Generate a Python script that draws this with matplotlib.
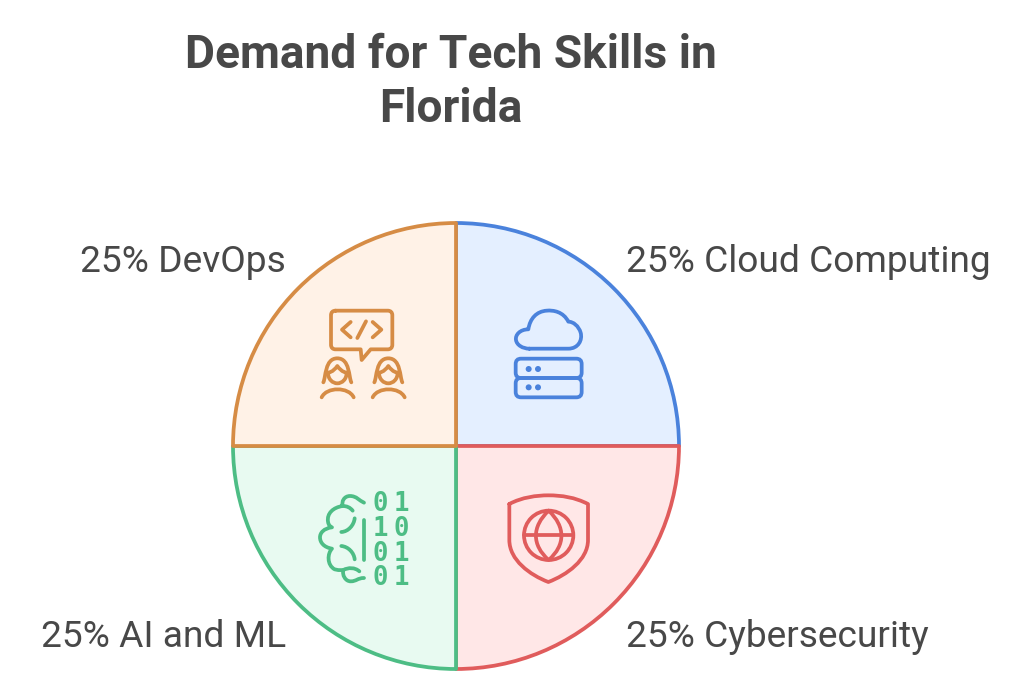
import numpy as np
import matplotlib
matplotlib.use("Agg")
import matplotlib.pyplot as plt
from matplotlib.path import Path
from matplotlib.patches import PathPatch, FancyBboxPatch, Circle

title = "Demand for Tech Skills in\nFlorida"
categories = ["Cloud Computing", "Cybersecurity", "AI and ML", "DevOps"]
shares = [25, 25, 25, 25]
edge_colors = ["#4A82DC", "#E05C5C", "#4DBD85", "#D68C45"]
fill_colors = ["#E4EFFF", "#FFE7E7", "#E8FAF1", "#FFF2E7"]
binary_columns = ["0\n1\n0\n0", "1\n0\n1\n1"]
text_color = "#484848"

W, H = 1024, 694
fig = plt.figure(figsize=(W / 100, H / 100), dpi=100, facecolor="white")
ax = fig.add_axes([0, 0, 1, 1])

wedges, _ = ax.pie(shares, colors=fill_colors, startangle=90, counterclock=False,
                   center=(456, H - 446), radius=223, frame=True,
                   wedgeprops=dict(linewidth=2.7, joinstyle="round"))
for w, c in zip(wedges, edge_colors):
    w.set_edgecolor(c)
ax.set_xlim(0, W)
ax.set_ylim(0, H)
ax.set_aspect("equal")
ax.axis("off")

ax.text(451, H - 82, title, ha="center", va="center", fontsize=33.2, family="Roboto",
        fontweight="bold", color=text_color, linespacing=1.3)

label_pos = [(626, 262, "left"), (626, 637, "left"), (286, 637, "right"), (286, 262, "right")]
for name, s, (x, y, ha) in zip(categories, shares, label_pos):
    ax.text(x, H - y, f"{s}% {name}", ha=ha, va="center", fontsize=26.75, family="Roboto",
            color=text_color)

LW = 2.7


def curve(color, ox, oy, start, *segs, lw=LW, close=False):
    """Icon stroke in 3x zoomed coordinates. segs: 2 pts = line, 6 numbers = bezier."""
    def P(x, y):
        return (ox + x / 3, H - (oy + y / 3))
    v, c = [P(*start)], [Path.MOVETO]
    for s in segs:
        if len(s) == 2:
            v.append(P(*s)); c.append(Path.LINETO)
        else:
            v += [P(s[0], s[1]), P(s[2], s[3]), P(s[4], s[5])]
            c += [Path.CURVE4] * 3
    if close:
        v.append(v[0]); c.append(Path.CLOSEPOLY)
    ax.add_patch(PathPatch(Path(v, c), fill=False, edgecolor=color, lw=lw,
                           capstyle="round", joinstyle="round", zorder=5))


def rrect(color, ox, oy, x0, y0, x1, y1, r, lw=LW):
    ax.add_patch(FancyBboxPatch((ox + (x0 + r) / 3, H - (oy + (y1 - r) / 3)),
                                (x1 - x0 - 2 * r) / 3, (y1 - y0 - 2 * r) / 3,
                                boxstyle=f"round,pad={r / 3},rounding_size={r / 3}",
                                fill=False, edgecolor=color, lw=lw, zorder=5))


def circle(color, ox, oy, x, y, r, fill=False, lw=LW):
    ax.add_patch(Circle((ox + x / 3, H - (oy + y / 3)), r / 3, fill=fill,
                        facecolor=color if fill else "none", edgecolor=color,
                        lw=0 if fill else lw, zorder=5))


# ---- cloud + server icon
c = edge_colors[0]
ox, oy = 300, 290
curve(c, ox, oy, (688, 176), (805, 176), (835, 176, 848, 150, 842, 128),
      (836, 108, 820, 95, 805, 95), (790, 65, 760, 60, 740, 62),
      (710, 64, 690, 85, 685, 118), (660, 118, 645, 135, 648, 150),
      (650, 165, 668, 176, 688, 176))
rrect(c, ox, oy, 647, 206, 845, 264, 16)
rrect(c, ox, oy, 647, 264, 845, 322, 16)
for y in (237, 292):
    for x in (686, 714):
        circle(c, ox, oy, x, y, 9, fill=True)

# ---- speech bubble + people icon
c = edge_colors[3]
curve(c, ox, oy, (107, 62), (263, 62), (272, 62, 277, 67, 277, 76), (277, 164),
      (277, 173, 272, 178, 263, 178), (212, 178), (185, 210), (182, 178), (107, 178),
      (98, 178, 93, 173, 93, 164), (93, 76), (93, 67, 98, 62, 107, 62))
curve(c, ox, oy, (152, 96), (126, 119), (152, 142))
curve(c, ox, oy, (218, 96), (244, 119), (218, 142))
curve(c, ox, oy, (198, 94), (172, 144))
for dx in (0, 153):
    curve(c, ox, oy, (70 + dx, 277), (78 + dx, 262, 74 + dx, 205, 112 + dx, 205),
          (150 + dx, 205, 146 + dx, 262, 154 + dx, 277))
    curve(c, ox, oy, (84 + dx, 248), (98 + dx, 246, 106 + dx, 236, 112 + dx, 228),
          (118 + dx, 236, 126 + dx, 246, 140 + dx, 248))
    curve(c, ox, oy, (84 + dx, 248), (84 + dx, 268, 98 + dx, 280, 112 + dx, 280),
          (126 + dx, 280, 140 + dx, 268, 140 + dx, 248))
    curve(c, ox, oy, (65 + dx, 322), (80 + dx, 290, 146 + dx, 290, 161 + dx, 322))

# ---- brain + binary icon
c = edge_colors[2]
ox, oy = 300, 480
curve(c, ox, oy, (192, 68), (178, 62, 170, 48, 150, 48), (132, 48, 124, 65, 128, 78),
      (100, 82, 80, 100, 84, 125), (86, 138, 92, 140, 96, 142),
      (72, 145, 60, 158, 60, 172), (60, 188, 72, 202, 96, 206),
      (82, 220, 80, 255, 104, 268), (120, 272, 128, 270, 130, 270),
      (126, 285, 136, 304, 152, 304), (170, 304, 172, 294, 192, 294))
curve(c, ox, oy, (128, 78), (140, 78, 150, 82, 158, 92))
curve(c, ox, oy, (164, 115), (162, 135, 145, 155, 124, 156))
curve(c, ox, oy, (124, 198), (145, 200, 162, 218, 164, 238))
curve(c, ox, oy, (130, 270), (145, 262, 165, 262, 178, 274))
curve(c, ox, oy, (191, 120), (191, 240))
for col, x in zip(binary_columns, (240, 303)):
    ax.text(ox + x / 3, H - (oy + 184 / 3), col, ha="center", va="center",
            family="DejaVu Sans Mono", fontsize=18.5, fontweight="bold", color=c,
            linespacing=0.93, zorder=5)

# ---- shield + globe icon
c = edge_colors[1]
curve(c, ox, oy, (628, 72), (665, 52, 710, 46, 745, 46), (785, 46, 825, 52, 864, 72),
      (864, 180), (864, 240, 800, 285, 745, 306), (690, 285, 628, 240, 628, 180),
      (628, 72))
circle(c, ox, oy, 746, 166, 74)
curve(c, ox, oy, (672, 166), (820, 166))
curve(c, ox, oy, (746, 92), (695, 140, 695, 195, 746, 240), (797, 195, 797, 140, 746, 92))

fig.savefig("out.png", dpi=100, facecolor="white")
